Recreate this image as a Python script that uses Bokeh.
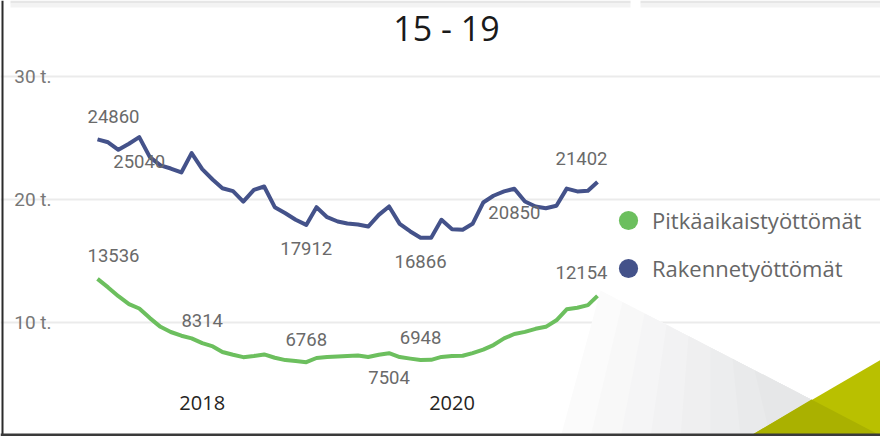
import pandas as pd
from bokeh.plotting import figure
from bokeh.models import (Range1d, FixedTicker, DatetimeTickFormatter, Legend, LegendItem,
                          ColumnDataSource, PolyAnnotation, Label)
from bokeh.core.properties import value
from bokeh.embed import file_html
from bokeh.resources import INLINE

# ---------------- data ----------------
title_text = "15 - 19"
series_names = ["Pitkäaikaistyöttömät", "Rakennetyöttömät"]
first_month = "2017-03-01"
last_month = "2021-03-01"

rakennetyottomat = [
    24860, 24620, 24010, 24500, 25040, 23410, 22740, 22490, 22170, 23740,
    22440, 21580, 20890, 20650, 19810, 20760, 21030, 19350, 18860, 18330,
    17912, 19350, 18540, 18190, 18030, 17950, 17780, 18730, 19410, 18000,
    17380, 16866, 16880, 18330, 17570, 17520, 18000, 19730, 20280, 20630,
    20850, 19810, 19410, 19270, 19470, 20860, 20630, 20680, 21402,
]
pitkaaikaistyottomat = [
    13536, 12840, 12130, 11490, 11125, 10350, 9640, 9220, 8920, 8700,
    8314, 8050, 7600, 7370, 7180, 7280, 7400, 7130, 6940, 6860,
    6768, 7110, 7190, 7240, 7270, 7310, 7190, 7380, 7504, 7190,
    7060, 6948, 6960, 7200, 7280, 7290, 7510, 7790, 8160, 8700,
    9060, 9230, 9480, 9640, 10170, 11060, 11190, 11400, 12154,
]

rak_label_idx = [0, 4, 20, 31, 40, 48]
rak_label_side = ["above", "below", "below", "below", "below", "above"]
pit_label_idx = [0, 10, 20, 28, 31, 48]
pit_label_side = ["above", "above", "above", "below", "above", "above"]

y_ticks = [10000, 20000, 30000]
y_tick_labels = ["10 t.", "20 t.", "30 t."]
x_tick_years = [2018, 2020]

# ---------------- layout / style ----------------
BLUE = "#44528A"
GREEN = "#6CBF5E"
W, H = 880, 436

months = pd.date_range(start=first_month, end=last_month, freq="MS")
DAY = pd.Timedelta(days=1)

# pixel geometry of the plotting area (page pixels)
PX_FIRST, PX_LAST = 97, 597          # x of first / last month
AREA_LEFT, AREA_RIGHT = 77, 616      # extent of grid lines
AXIS_Y_PX = 386                      # baseline of the x axis
PX_PER_UNIT = 0.01232                # vertical pixels per person
Y20_PX = 198.7                       # page y of the 20 000 grid line

px_per_day = (PX_LAST - PX_FIRST) / ((months[-1] - months[0]) / DAY)
x_start = months[0] - (PX_FIRST / px_per_day) * DAY
x_end = months[-1] + ((W - PX_LAST) / px_per_day) * DAY
y_top = 20000 + Y20_PX / PX_PER_UNIT
y_bottom = 20000 - (H - Y20_PX) / PX_PER_UNIT
axis_y_val = 20000 - (AXIS_Y_PX - Y20_PX) / PX_PER_UNIT


def ms(ts):
    return ts.value / 1e6


grid_lo = ms(months[0] - ((PX_FIRST - AREA_LEFT) / px_per_day) * DAY)
grid_hi = ms(months[-1] + ((AREA_RIGHT - PX_LAST) / px_per_day) * DAY)

p = figure(width=W, height=H, output_backend="svg", toolbar_location=None,
           x_axis_type="datetime", x_range=Range1d(x_start, x_end),
           y_range=Range1d(y_bottom, y_top), title=None,
           min_border=0, min_border_left=0, min_border_right=0,
           min_border_top=0, min_border_bottom=0,
           background_fill_color="white", border_fill_color="white",
           outline_line_color=None)


def to_frame(pts):
    return [x for x, _ in pts], [H - y for _, y in pts]


def add_poly(pts, col):
    xs, ys = to_frame(pts)
    p.add_layout(PolyAnnotation(xs=xs, ys=ys, xs_units="screen", ys_units="screen",
                                fill_color=col, fill_alpha=1.0, line_color=None,
                                level="underlay"))


# decorative frame of the report page: top shadow, soft gray wedge, green corner
add_poly([(10, 0), (630, 0), (630, 3), (10, 3)], "#E6E6E6")
add_poly([(10, 3), (630, 3), (630, 7), (10, 7)], "#F3F3F3")
add_poly([(640, 0), (884, 0), (884, 3), (640, 3)], "#E6E6E6")
add_poly([(640, 3), (884, 3), (884, 7), (640, 7)], "#F3F3F3")


def diag_y(x):
    return 290 + (437 - 290) / (884 - 600) * (x - 600)


shades = ["#FBFBFB", "#F8F8F8", "#F5F5F6", "#F2F2F3", "#EFEFF0", "#ECEDEE", "#E9EAEB", "#E6E7E8"]
for k, col in enumerate(shades):
    ax = 600 + k * 22
    bx = 560 + k * 30
    add_poly([(ax, diag_y(ax)), (884, 437), (bx, 437)], col)

add_poly([(747, 437), (884, 357), (884, 437)], "#B9C000")
add_poly([(747, 437), (811, 399), (884, 437)], "#AAB100")
add_poly([(1, 0), (3, 0), (3, 437), (1, 437)], "#2B2B2B")
add_poly([(0, 433), (884, 433), (884, 437), (0, 437)], "#3A3A3A")

# lines
src_r = ColumnDataSource(dict(x=months, y=rakennetyottomat))
src_p = ColumnDataSource(dict(x=months, y=pitkaaikaistyottomat))
p.line("x", "y", source=src_r, line_color=BLUE, line_width=4, line_join="round")
p.line("x", "y", source=src_p, line_color=GREEN, line_width=4, line_join="round")


def label_source(idx, sides, vals):
    last = len(vals) - 1
    return ColumnDataSource(dict(
        x=[months[i] for i in idx],
        y=[vals[i] for i in idx],
        text=[str(vals[i]) for i in idx],
        xo=[16 if i == 0 else (-16 if i == last else 0) for i in idx],
        yo=[-23 if s == "above" else 24 for s in sides],
    ))


for src in (label_source(rak_label_idx, rak_label_side, rakennetyottomat),
            label_source(pit_label_idx, pit_label_side, pitkaaikaistyottomat)):
    p.text("x", "y", "text", source=src, x_offset="xo", y_offset="yo",
           text_align="center", text_baseline="middle",
           text_font=value("Roboto"), text_font_size=value("18.5px"),
           text_color="#6A6A6A")

# axes (drawn at fixed locations inside the full-canvas frame)
p.xaxis.fixed_location = axis_y_val
p.xaxis.ticker = FixedTicker(ticks=[ms(pd.Timestamp(f"{y}-01-01")) for y in x_tick_years])
p.xaxis.formatter = DatetimeTickFormatter(years="%Y", months="%Y", days="%Y", hours="%Y",
                                          hourmin="%Y", minutes="%Y", minsec="%Y",
                                          seconds="%Y", milliseconds="%Y", microseconds="%Y")
p.xaxis.axis_line_color = None
p.xaxis.major_tick_line_color = None
p.xaxis.minor_tick_line_color = None
p.xaxis.major_label_text_font = "Open Sans"
p.xaxis.major_label_text_font_size = "20px"
p.xaxis.major_label_text_color = "#252423"
p.xaxis.major_label_standoff = 3

p.yaxis.fixed_location = grid_lo
p.yaxis.ticker = FixedTicker(ticks=y_ticks)
p.yaxis.major_label_overrides = {t: l for t, l in zip(y_ticks, y_tick_labels)}
p.yaxis.axis_line_color = None
p.yaxis.major_tick_line_color = None
p.yaxis.minor_tick_line_color = None
p.yaxis.major_label_text_font = "Roboto"
p.yaxis.major_label_text_font_size = "19px"
p.yaxis.major_label_text_color = "#777777"
p.yaxis.major_label_standoff = 20

p.xgrid.visible = False
p.ygrid.ticker = FixedTicker(ticks=y_ticks)
p.ygrid.bounds = (grid_lo, grid_hi)
p.ygrid.grid_line_color = "#EBEBEB"
p.ygrid.grid_line_width = 2

# title
p.add_layout(Label(text=title_text, x=446, y=H - 27, x_units="screen", y_units="screen",
                   text_align="center", text_baseline="middle",
                   text_font="Open Sans", text_font_size="34px", text_color="#1A1A1A"))

# legend with circle markers (zero-size markers on the series, shown only in the legend)
leg_g = p.scatter("x", "y", source=src_p, marker="circle", size=0,
                  fill_color=GREEN, line_color=None)
leg_b = p.scatter("x", "y", source=src_r, marker="circle", size=0,
                  fill_color=BLUE, line_color=None)
legend = Legend(items=[LegendItem(label=series_names[0], renderers=[leg_g]),
                       LegendItem(label=series_names[1], renderers=[leg_b])],
                location=(604, H - 292), orientation="vertical",
                glyph_width=48, glyph_height=48, label_standoff=0,
                spacing=0, padding=0, margin=0,
                border_line_color=None, background_fill_alpha=0,
                label_text_font="Open Sans", label_text_font_size="22px",
                label_text_color="#666666")
p.add_layout(legend, "center")

open("out.html", "w").write(file_html(p, INLINE))
